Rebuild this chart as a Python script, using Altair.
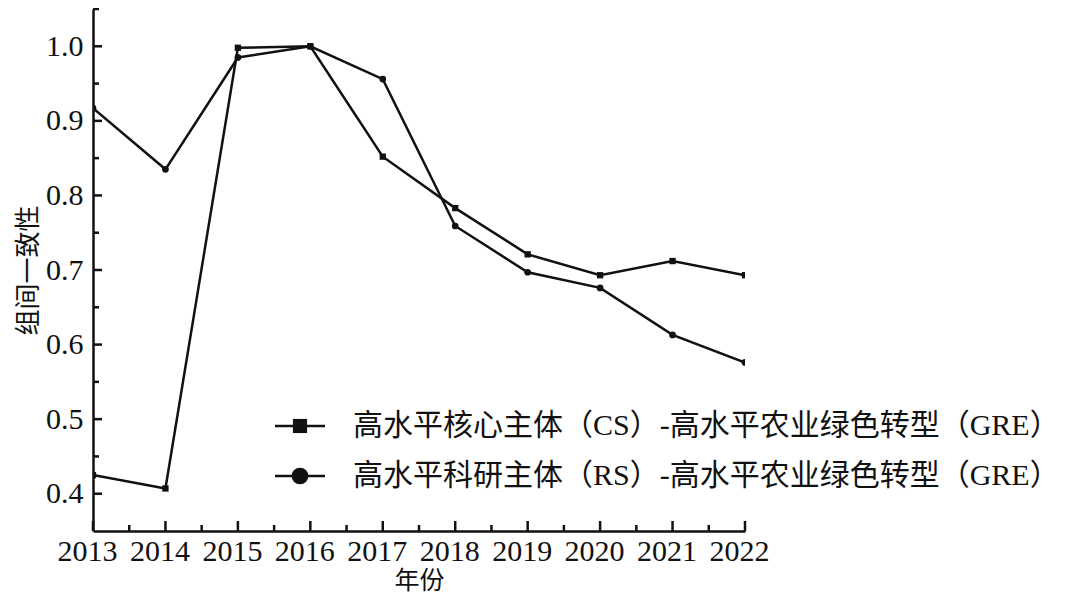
import altair as alt
import pandas as pd

# ---- data ----
years = [2013, 2014, 2015, 2016, 2017, 2018, 2019, 2020, 2021, 2022]
cs_values = [0.425, 0.407, 0.998, 1.000, 0.852, 0.783, 0.721, 0.693, 0.712, 0.693]
rs_values = [0.917, 0.835, 0.985, 1.000, 0.956, 0.759, 0.697, 0.676, 0.613, 0.576]
series_labels = [
    "高水平核心主体（CS）-高水平农业绿色转型（GRE）",
    "高水平科研主体（RS）-高水平农业绿色转型（GRE）",
]
x_major = years
x_minor = [2013.5, 2014.5, 2015.5, 2016.5, 2017.5, 2018.5, 2019.5, 2020.5, 2021.5]
y_major = [0.4, 0.5, 0.6, 0.7, 0.8, 0.9, 1.0]
y_minor = [0.45, 0.55, 0.65, 0.75, 0.85, 0.95, 1.05]
x_title = "年份"
y_title = "组间一致性"

W, H = 652, 522
SERIF = "Liberation Serif"
CJK = "Liberation Serif, Noto Sans CJK SC"
INK = "#111111"

cs_df = pd.DataFrame({"year": years, "value": cs_values})
rs_df = pd.DataFrame({"year": years, "value": rs_values})

xscale = alt.Scale(domain=[2013, 2022], nice=False, zero=False)
yscale = alt.Scale(domain=[0.35, 1.05], nice=False, zero=False)

x_axis = alt.Axis(values=x_major, format="d", ticks=False, grid=False,
                  labelFont=SERIF, labelFontSize=30, labelColor=INK,
                  labelPadding=5, labelOffset=-6, labelFlush=False,
                  title=x_title, titleFont="Noto Sans CJK SC", titleFontSize=25,
                  titleFontWeight="normal", titleColor=INK, titlePadding=2,
                  domainColor=INK, domainWidth=2.5)
y_axis = alt.Axis(values=y_major, format=".1f", ticks=False, grid=False,
                  labelFont=SERIF, labelFontSize=30, labelColor=INK,
                  labelPadding=10, labelFlush=False,
                  title=y_title, titleFont="Noto Sans CJK SC", titleFontSize=26,
                  titleFontWeight="normal", titleColor=INK, titlePadding=4,
                  domainColor=INK, domainWidth=2.5)

X = alt.X("year:Q", scale=xscale, axis=x_axis)
Y = alt.Y("value:Q", scale=yscale, axis=y_axis)

cs_line = alt.Chart(cs_df).mark_line(color=INK, strokeWidth=2.5, clip=True).encode(x=X, y=Y)
cs_pts = alt.Chart(cs_df).mark_point(shape="square", filled=True, color=INK, size=40,
                                     opacity=1, clip=True).encode(x=X, y=Y)
rs_line = alt.Chart(rs_df).mark_line(color=INK, strokeWidth=2.5, clip=True).encode(x=X, y=Y)
rs_pts = alt.Chart(rs_df).mark_point(shape="circle", filled=True, color=INK, size=45,
                                     opacity=1, clip=True).encode(x=X, y=Y)

# inward tick marks
xt_major = alt.Chart(pd.DataFrame({"t": x_major})).mark_rule(color=INK, strokeWidth=2.5).encode(
    x=alt.X("t:Q", scale=xscale), y=alt.value(H), y2=alt.value(H - 10))
xt_minor = alt.Chart(pd.DataFrame({"t": x_minor})).mark_rule(color=INK, strokeWidth=2.5).encode(
    x=alt.X("t:Q", scale=xscale), y=alt.value(H), y2=alt.value(H - 6))
yt_major = alt.Chart(pd.DataFrame({"t": y_major})).mark_rule(color=INK, strokeWidth=2.5).encode(
    y=alt.Y("t:Q", scale=yscale), x=alt.value(0), x2=alt.value(9))
yt_minor = alt.Chart(pd.DataFrame({"t": y_minor})).mark_rule(color=INK, strokeWidth=2.5).encode(
    y=alt.Y("t:Q", scale=yscale), x=alt.value(0), x2=alt.value(6))

# custom legend (positions in pixels relative to plot origin)
leg_layers = []
shapes = ["square", "circle"]
sizes = [200, 280]
for i, (lab, shp, sz) in enumerate(zip(series_labels, shapes, sizes)):
    ly = 417 + i * 50
    d = pd.DataFrame({"label": [lab]})
    leg_layers.append(alt.Chart(d).mark_rule(color=INK, strokeWidth=2.5).encode(
        x=alt.value(182), x2=alt.value(232), y=alt.value(ly)))
    leg_layers.append(alt.Chart(d).mark_point(shape=shp, filled=True, color=INK, size=sz,
                                              opacity=1).encode(
        x=alt.value(207), y=alt.value(ly)))
    leg_layers.append(alt.Chart(d).mark_text(font=CJK, fontSize=30, color=INK, align="left",
                                             baseline="middle").encode(
        x=alt.value(260), y=alt.value(ly), text="label:N"))

chart = alt.layer(
    cs_line, rs_line, cs_pts, rs_pts, xt_major, xt_minor, yt_major, yt_minor, *leg_layers
).properties(
    width=W, height=H,
    background="white",
    autosize=alt.AutoSizeParams(type="none"),
    padding={"left": 85, "top": 1, "right": 327, "bottom": 64},
).configure_view(stroke=None, strokeWidth=0)

chart.save("out.html", embed_options={"renderer": "svg", "actions": False})
